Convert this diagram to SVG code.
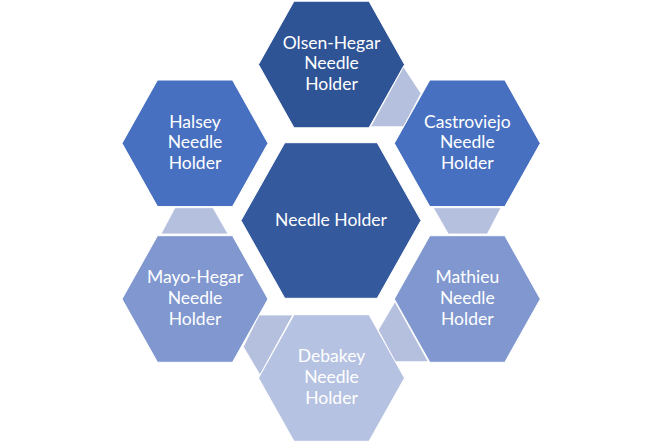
<svg xmlns="http://www.w3.org/2000/svg" xmlns:xlink="http://www.w3.org/1999/xlink" width="671" height="447" viewBox="0 0 671 447">
<style>
.hex{stroke:#ffffff;stroke-width:1}
.conn{fill:#b5c0df;stroke:#ffffff;stroke-width:0.8}
.t{font-family:"Lato","Liberation Sans",sans-serif;font-size:17.5px;fill:#ffffff;text-anchor:middle}
.c0{fill:#34599d}
.c1{fill:#2f5496}
.c2{fill:#4870c0}
.c3{fill:#8097cf}
.c4{fill:#b6c2e1}
</style>
<defs>
<polygon id="hs" points="-73,0 -37.5,-63.3 37.5,-63.3 73,0 37.5,63.3 -37.5,63.3"/>
</defs>
<rect width="671" height="447" fill="#ffffff"/>
<g id="connectors">
<polygon class="conn" points="403.5,66.7 421,93.4 403.6,126.7 370.5,126.7"/>
<polygon class="conn" points="433.3,207.7 501,207.7 487.3,234 448.3,234"/>
<polygon class="conn" points="395,301.7 428.3,361.7 395,361.7 378.3,330"/>
<polygon class="conn" points="259,315 292.8,315 260,375 243.3,346.7"/>
<polygon class="conn" points="175,207.7 213,207.7 228,234 161,234"/>
</g>
<g id="center">
<polygon class="hex c0" points="241,220.5 284.8,142.7 377.2,142.7 421,220.5 377.2,298.3 284.8,298.3"/>
<text class="t" x="331" y="225.5">Needle Holder</text>
</g>
<g id="olsen-hegar">
<use xlink:href="#hs" class="hex c1" x="331.5" y="64.5"/>
<text class="t" x="331.5" y="48.5">Olsen-Hegar</text>
<text class="t" x="331.5" y="69.3">Needle</text>
<text class="t" x="331.5" y="90">Holder</text>
</g>
<g id="castroviejo">
<use xlink:href="#hs" class="hex c2" x="467.3" y="143.3"/>
<text class="t" x="467.3" y="127.5">Castroviejo</text>
<text class="t" x="467.3" y="148.2">Needle</text>
<text class="t" x="467.3" y="169">Holder</text>
</g>
<g id="mathieu">
<use xlink:href="#hs" class="hex c3" x="467.3" y="299"/>
<text class="t" x="467.3" y="283">Mathieu</text>
<text class="t" x="467.3" y="303.8">Needle</text>
<text class="t" x="467.3" y="324.6">Holder</text>
</g>
<g id="debakey">
<use xlink:href="#hs" class="hex c4" x="331.5" y="378"/>
<text class="t" x="331.5" y="362">Debakey</text>
<text class="t" x="331.5" y="382.8">Needle</text>
<text class="t" x="331.5" y="403.6">Holder</text>
</g>
<g id="mayo-hegar">
<use xlink:href="#hs" class="hex c3" x="195" y="299"/>
<text class="t" x="195" y="283">Mayo-Hegar</text>
<text class="t" x="195" y="303.8">Needle</text>
<text class="t" x="195" y="324.6">Holder</text>
</g>
<g id="halsey">
<use xlink:href="#hs" class="hex c2" x="195" y="143.3"/>
<text class="t" x="195" y="127.5">Halsey</text>
<text class="t" x="195" y="148.2">Needle</text>
<text class="t" x="195" y="169">Holder</text>
</g>
</svg>
